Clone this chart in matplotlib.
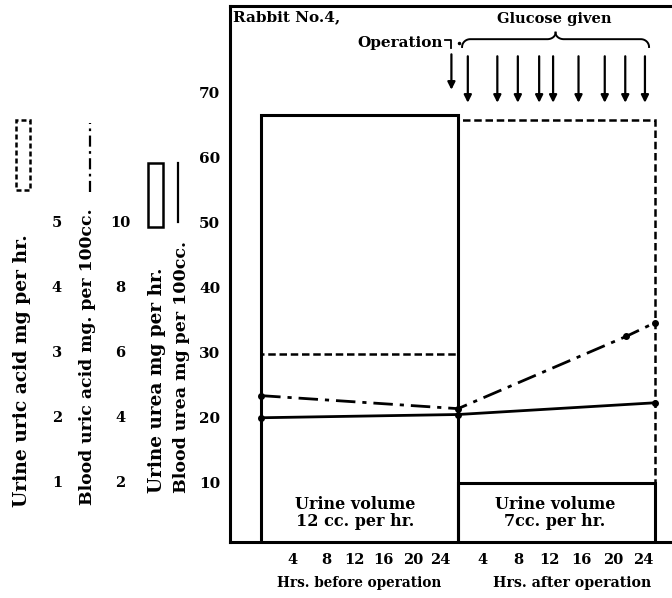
import numpy as np
import matplotlib
matplotlib.use('Agg')
import matplotlib.pyplot as plt
from matplotlib.patches import Rectangle
from matplotlib.transforms import blended_transform_factory

plt.rcParams['font.family'] = 'DejaVu Serif'
plt.rcParams['font.weight'] = 'bold'

# values are in the units of the main (blood urea) scale, 10..70
# hours: pre-operation period is -24..0, post-operation 0..24
urine_urea_pre = 66.6
urine_urea_post = 10.0
urine_uric_pre = 29.8
urine_uric_post = 65.8

blood_urea_hours = [-24, 0, 24]
blood_urea = [20.0, 20.5, 22.3]

blood_uric_hours = [-24, 0, 20.5, 24]
blood_uric = [23.4, 21.4, 32.5, 34.6]

glucose_hours = [1.2, 4.8, 7.3, 9.9, 11.6, 14.7, 17.9, 20.4, 22.8]
operation_hour = -0.8

main_ticks = [10, 20, 30, 40, 50, 60, 70]
urea_hr_ticks = [2, 4, 6, 8, 10]
uric_hr_ticks = [1, 2, 3, 4, 5]

pre_tick_pos = [-20.2, -16.1, -12.6, -9.1, -5.5, -2.2]
post_tick_pos = [3.0, 7.3, 11.2, 15.1, 18.9, 22.6]
hour_labels = ['4', '8', '12', '16', '20', '24']

fig = plt.figure(figsize=(6.72, 5.98), dpi=100)
ax = fig.add_axes([230 / 672, 1 - 542 / 598, 442 / 672, 536 / 598])
ax.set_xlim(-27.8, 26.1)
ax.set_ylim(0.9, 83.3)

for side in ['left', 'top', 'bottom']:
    ax.spines[side].set_linewidth(2.2)
ax.spines['right'].set_visible(False)

ax.set_yticks(main_ticks)
ax.set_yticklabels([str(t) for t in main_ticks], fontsize=11, fontweight='bold')
ax.tick_params(axis='y', length=0, pad=7)
ax.set_xticks(pre_tick_pos + post_tick_pos)
ax.set_xticklabels(hour_labels + hour_labels, fontsize=10.5, fontweight='bold')
ax.tick_params(axis='x', length=0, pad=8)

# urine urea boxes (solid)
ax.add_patch(Rectangle((-24, 0), 24, urine_urea_pre, fill=False, lw=2.2, ec='black'))
ax.add_patch(Rectangle((0, 0), 24, urine_urea_post, fill=False, lw=2.2, ec='black'))
# urine uric acid boxes (dashed)
ax.add_patch(Rectangle((-24, 0), 24, urine_uric_pre, fill=False, lw=1.8, ec='black',
                       linestyle=(0, (3, 1.5))))
ax.add_patch(Rectangle((0, 0), 24, urine_uric_post, fill=False, lw=1.8, ec='black',
                       linestyle=(0, (3, 1.5))))

ax.plot(blood_urea_hours, blood_urea, color='black', lw=2, marker='o', ms=4)
ax.plot(blood_uric_hours, blood_uric, color='black', lw=2, marker='o', ms=4,
        linestyle=(0, (7, 2.5, 1.5, 2.5)))

# glucose arrows
for t in glucose_hours:
    ax.annotate('', xy=(t, 68.0), xytext=(t, 76.0),
                arrowprops=dict(arrowstyle='-|>', color='black', lw=1.6, mutation_scale=11))
ax.annotate('', xy=(operation_hour, 70.0), xytext=(operation_hour, 76.3),
            arrowprops=dict(arrowstyle='-|>', color='black', lw=1.6, mutation_scale=11))
ax.plot([-1.6, -0.8, -0.8], [78.0, 78.0, 76.8], color='black', lw=1.3)
ax.plot([0.1], [77.6], marker='o', color='black', ms=1.5)

# brace over glucose arrows
x0, x1, xm = 0.5, 23.3, 11.9
yb = 78.2
r = 1.0
th = np.linspace(0, np.pi / 2, 20)
bx = np.concatenate([x0 + r - r * np.cos(th), [xm - r],
                     xm - r + r * np.sin(th)])
by = np.concatenate([yb - r * 1.2 + r * 1.2 * np.sin(th), [yb],
                     yb + r * 1.0 * (1 - np.cos(th))])
ax.plot(bx, by, color='black', lw=1.4)
ax.plot(2 * xm - bx[::-1] + (x1 - x0 - 2 * (xm - x0)), by[::-1], color='black', lw=1.4)

ax.text(-27.4, 81.6, 'Rabbit No.4,', fontsize=11, fontweight='bold', ha='left', va='center')
ax.text(11.7, 81.3, 'Glucose given', fontsize=10.5, fontweight='bold', ha='center', va='center')
ax.text(-7.0, 77.6, 'Operation', fontsize=11, fontweight='bold', ha='center', va='center')

ax.text(-12.5, 5.4, 'Urine volume\n12 cc. per hr.', fontsize=11.5, fontweight='bold',
        ha='center', va='center', linespacing=1.0)
ax.text(11.8, 5.4, 'Urine volume\n7cc. per hr.', fontsize=11.5, fontweight='bold',
        ha='center', va='center', linespacing=1.0)

ax.text(-12.0, -5.4, 'Hrs. before operation', fontsize=9.8, fontweight='bold',
        ha='center', va='center')
ax.text(13.9, -5.4, 'Hrs. after operation', fontsize=10.2, fontweight='bold',
        ha='center', va='center')

# extra scales on the left
tr = blended_transform_factory(fig.transFigure, ax.transData)
for v in uric_hr_ticks:
    ax.text(57 / 672, v * 10, str(v), transform=tr, fontsize=10.5, fontweight='bold',
            ha='center', va='center', clip_on=False)
for v in urea_hr_ticks:
    ax.text(120 / 672, v * 5, str(v), transform=tr, fontsize=10.5, fontweight='bold',
            ha='center', va='center', clip_on=False)

fig.text(22 / 672, 1 - 507 / 598, 'Urine uric acid mg per hr.', rotation=90,
         fontsize=13.5, fontweight='bold', ha='center', va='bottom')
fig.text(88 / 672, 1 - 505 / 598, 'Blood uric acid mg. per 100cc.', rotation=90,
         fontsize=12.4, fontweight='bold', ha='center', va='bottom')
fig.text(157 / 672, 1 - 493 / 598, 'Urine urea mg per hr.', rotation=90,
         fontsize=13.3, fontweight='bold', ha='center', va='bottom')
fig.text(182 / 672, 1 - 493 / 598, 'Blood urea mg per 100cc.', rotation=90,
         fontsize=12.5, fontweight='bold', ha='center', va='bottom')

# legend keys
fig.patches.append(Rectangle((16 / 672, 1 - 190 / 598), 14 / 672, 70 / 598, fill=False,
                             lw=1.8, ec='black', linestyle=(0, (2, 1.2)),
                             transform=fig.transFigure, figure=fig))
fig.patches.append(Rectangle((148 / 672, 1 - 227 / 598), 15 / 672, 64 / 598, fill=False,
                             lw=1.8, ec='black', transform=fig.transFigure, figure=fig))
fig.add_artist(plt.Line2D([90 / 672, 90 / 672], [1 - 192 / 598, 1 - 123 / 598], color='black',
                          lw=1.6, linestyle=(0, (5, 2, 1.2, 2)), transform=fig.transFigure))
fig.add_artist(plt.Line2D([178 / 672, 178 / 672], [1 - 222 / 598, 1 - 163 / 598], color='black',
                          lw=1.6, transform=fig.transFigure))

fig.savefig('out.png', dpi=100)
